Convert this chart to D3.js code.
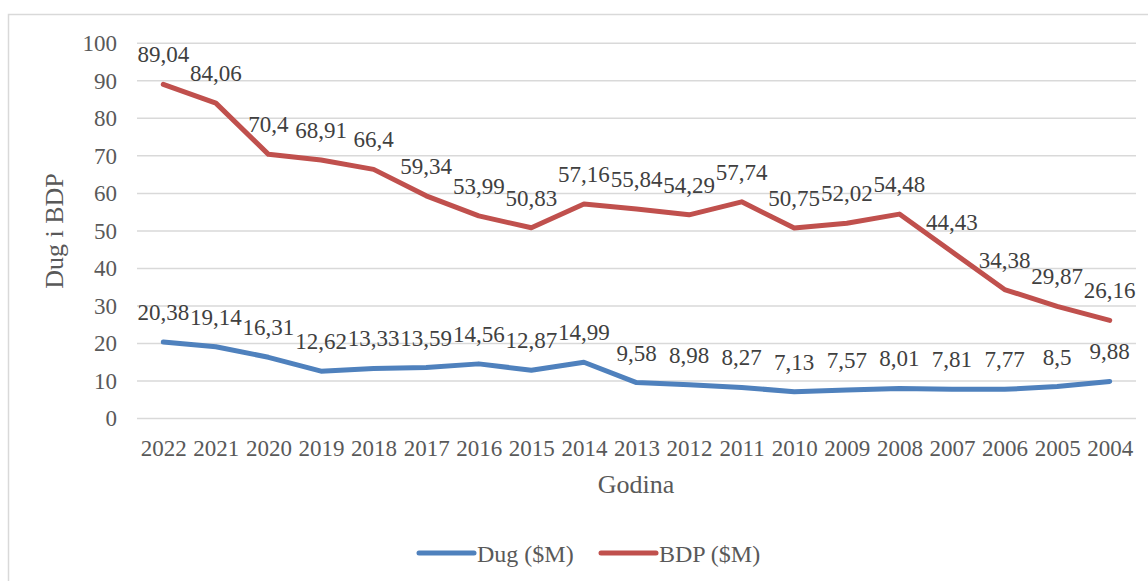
<!DOCTYPE html>
<html>
<head>
<meta charset="utf-8">
<script src="https://cdn.jsdelivr.net/npm/d3@7"></script>
<style>
  html, body { margin: 0; padding: 0; background: #fff; }
  svg text { font-family: "Liberation Serif", "Times New Roman", Times, "DejaVu Serif", serif !important; }
</style>
</head>
<body>
<svg id="chart" width="1148" height="581"></svg>
<script>
// data
const years = ["2022", "2021", "2020", "2019", "2018", "2017", "2016", "2015", "2014", "2013",
               "2012", "2011", "2010", "2009", "2008", "2007", "2006", "2005", "2004"];
const dug = [20.38, 19.14, 16.31, 12.62, 13.33, 13.59, 14.56, 12.87, 14.99, 9.58,
             8.98, 8.27, 7.13, 7.57, 8.01, 7.81, 7.77, 8.5, 9.88];
const bdp = [89.04, 84.06, 70.4, 68.91, 66.4, 59.34, 53.99, 50.83, 57.16, 55.84,
             54.29, 57.74, 50.75, 52.02, 54.48, 44.43, 34.38, 29.87, 26.16];
const yTicks = [0, 10, 20, 30, 40, 50, 60, 70, 80, 90, 100];
const seriesNames = ["Dug ($M)", "BDP ($M)"];
const seriesColors = ["#4F81BD", "#C0504D"];

const svg = d3.select("#chart");

// outer chart border (runs off the right / bottom of the picture)
svg.append("rect")
    .attr("x", 8.5).attr("y", 14.5)
    .attr("width", 1200).attr("height", 620)
    .attr("fill", "none")
    .attr("stroke", "#d9d9d9")
    .attr("stroke-width", 1.5);

const x = d3.scalePoint().domain(years).range([137, 1136]).padding(0.5);
const y = d3.scaleLinear().domain([0, 100]).range([418.5, 43.3]);

// gridlines
svg.append("g")
    .selectAll("line")
    .data(yTicks)
    .enter()
    .append("line")
    .attr("x1", 137).attr("x2", 1136)
    .attr("y1", d => y(d)).attr("y2", d => y(d))
    .attr("stroke", "#d9d9d9")
    .attr("stroke-width", 1.5);

// y axis labels
const yAxis = svg.append("g")
    .attr("transform", "translate(137,0)")
    .call(d3.axisLeft(y).tickValues(yTicks).tickSize(0).tickPadding(20));
yAxis.select(".domain").remove();
yAxis.selectAll("text")
    .attr("font-size", 23)
    .attr("fill", "#595959");

// x axis labels
const xAxis = svg.append("g")
    .attr("transform", "translate(0,418.5)")
    .call(d3.axisBottom(x).tickSize(0).tickPadding(21));
xAxis.select(".domain").remove();
xAxis.selectAll("text")
    .attr("font-size", 23)
    .attr("fill", "#595959");

// axis titles
svg.append("text")
    .attr("transform", "translate(63,231) rotate(-90)")
    .attr("text-anchor", "middle")
    .attr("font-size", 26)
    .attr("fill", "#595959")
    .text("Dug i BDP");

svg.append("text")
    .attr("x", 636).attr("y", 493)
    .attr("text-anchor", "middle")
    .attr("font-size", 26)
    .attr("fill", "#595959")
    .text("Godina");

// lines
const line = d3.line()
    .x((d, i) => x(years[i]))
    .y(d => y(d));

[dug, bdp].forEach((values, k) => {
    svg.append("path")
        .datum(values)
        .attr("d", line)
        .attr("fill", "none")
        .attr("stroke", seriesColors[k])
        .attr("stroke-width", 5)
        .attr("stroke-linejoin", "round")
        .attr("stroke-linecap", "round");
});

// data labels, centred above each point
[dug, bdp].forEach(values => {
    svg.append("g")
        .selectAll("text")
        .data(values)
        .enter()
        .append("text")
        .attr("x", (d, i) => x(years[i]))
        .attr("y", d => y(d) - 22)
        .attr("text-anchor", "middle")
        .attr("font-size", 23)
        .attr("fill", "#404040")
        .text(d => String(d).replace(".", ","));
});

// legend
const legendX = [419, 601];
const legend = svg.append("g")
    .selectAll("g")
    .data(seriesNames)
    .enter()
    .append("g")
    .attr("transform", (d, i) => `translate(${legendX[i]},553)`);

legend.append("line")
    .attr("x1", 0).attr("x2", 55)
    .attr("stroke", (d, i) => seriesColors[i])
    .attr("stroke-width", 5)
    .attr("stroke-linecap", "round");

legend.append("text")
    .attr("x", 58).attr("y", 9)
    .attr("font-size", 24)
    .attr("fill", "#595959")
    .text(d => d);
</script>
</body>
</html>
